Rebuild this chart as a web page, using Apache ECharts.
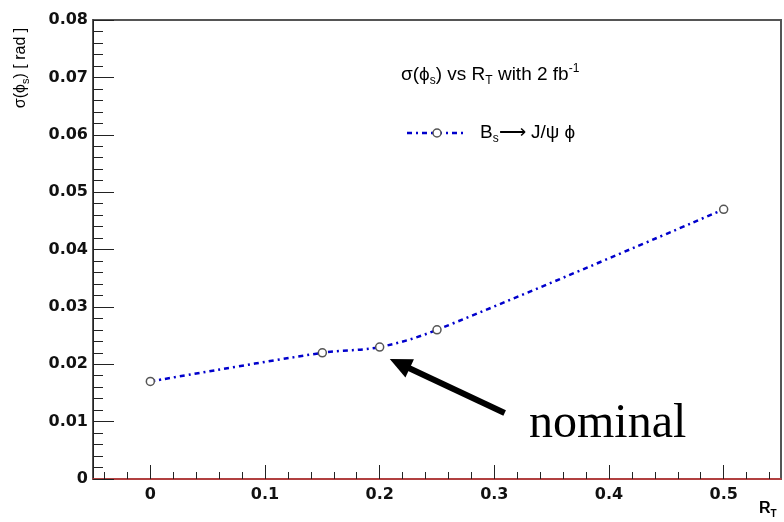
<!DOCTYPE html>
<html><head><meta charset="utf-8">
<script src="https://cdn.jsdelivr.net/npm/echarts@6/dist/echarts.min.js"></script>
<style>html,body{margin:0;padding:0;background:#fff}#c{width:784px;height:522px}</style>
</head><body><div id="c"></div>
<script>
// ---- data ----
const rT = [0, 0.15, 0.2, 0.25, 0.5];
const sigmaPhiS = [0.017, 0.022, 0.023, 0.026, 0.047];
const xTickValues = [0, 0.1, 0.2, 0.3, 0.4, 0.5];
const xTickLabels = ['0', '0.1', '0.2', '0.3', '0.4', '0.5'];
const yTickLabels = ['0', '0.01', '0.02', '0.03', '0.04', '0.05', '0.06', '0.07', '0.08'];
const arrowTail = [0.309, 0.0115];
const arrowHead = [0.2175, 0.0201];

const xMinor = [];
for (let i = -2; i <= 27; i++) { if (i % 5 !== 0) xMinor.push(+(i * 0.02).toFixed(2)); }

const chart = echarts.init(document.getElementById('c'), null, {renderer: 'canvas'});
const tickFont = {fontFamily: 'DejaVu Sans', fontWeight: 'bold', fontSize: 16, color: '#111'};
const rich = {
  n: {fontFamily: 'Liberation Sans', fontSize: 19, lineHeight: 24, color: '#111'},
  s: {fontFamily: 'Liberation Sans', fontSize: 12, lineHeight: 12, verticalAlign: 'bottom', color: '#111'},
  p: {fontFamily: 'Liberation Sans', fontSize: 12, lineHeight: 12, verticalAlign: 'top', color: '#111'}
};
const richY = {
  n: {fontFamily: 'Liberation Sans', fontSize: 16, lineHeight: 20, color: '#111'},
  s: {fontFamily: 'Liberation Sans', fontSize: 11, lineHeight: 11, verticalAlign: 'bottom', color: '#111'}
};
const X0 = -0.05, X1 = 0.55;
chart.setOption({
  animation: false,
  backgroundColor: '#fff',
  grid: {left: 93, right: 3, top: 20, bottom: 43, show: true, borderColor: '#555', borderWidth: 2, backgroundColor: 'transparent'},
  xAxis: [{
    type: 'value', min: X0, max: X1, position: 'bottom',
    axisLine: {show: true, onZero: false, lineStyle: {color: '#d03a3a', width: 1.5}},
    axisTick: {show: true, inside: true, length: 14, customValues: xTickValues, lineStyle: {color: '#222', width: 1}},
    axisLabel: Object.assign({show: true, margin: 8, customValues: xTickValues,
      formatter: v => xTickLabels[Math.round(v * 10)]}, tickFont),
    splitLine: {show: false}
  }, {
    type: 'value', min: X0, max: X1, position: 'bottom',
    axisLine: {show: false},
    axisTick: {show: true, inside: true, length: 7, customValues: xMinor, lineStyle: {color: '#222', width: 1}},
    axisLabel: {show: false},
    splitLine: {show: false}
  }],
  yAxis: {
    type: 'value', min: 0, max: 0.08, interval: 0.01,
    axisLine: {show: true, onZero: false, lineStyle: {color: '#222', width: 1}},
    axisTick: {show: true, inside: true, length: 21, lineStyle: {color: '#222', width: 1}},
    minorTick: {show: true, splitNumber: 5, length: 10, lineStyle: {color: '#222', width: 1}},
    axisLabel: Object.assign({margin: 5, formatter: v => yTickLabels[Math.round(v / 0.01)]}, tickFont),
    splitLine: {show: false}, minorSplitLine: {show: false}
  },
  series: [{
    type: 'line', xAxisIndex: 0,
    data: rT.map((x, i) => [x, sigmaPhiS[i]]),
    smooth: 0.35,
    symbol: 'circle', symbolSize: 8,
    itemStyle: {color: '#fff', borderColor: '#555', borderWidth: 1.5},
    lineStyle: {color: '#0000cc', width: 2.5, type: [5, 4, 2, 4]},
    z: 5,
    markLine: {
      silent: true, animation: false,
      symbol: ['none', 'triangle'], symbolSize: [20, 22],
      lineStyle: {color: '#000', width: 6, type: 'solid'},
      label: {show: false},
      data: [[{coord: arrowTail, symbol: 'none'}, {coord: arrowHead, symbol: 'triangle'}]]
    }
  }],
  graphic: [
    {type: 'text', x: 401, y: 75, style: {text: '{n|σ(ϕ}{s|s}{n|) vs R}{s|T}{n| with 2 fb}{p|-1}', rich: rich, verticalAlign: 'middle'}},
    {type: 'line', shape: {x1: 407, y1: 133, x2: 466, y2: 133}, style: {stroke: '#0000cc', lineWidth: 2.5, lineDash: [5, 4, 2, 4]}},
    {type: 'circle', shape: {cx: 437, cy: 133, r: 4}, style: {fill: '#fff', stroke: '#555', lineWidth: 1.5}},
    {type: 'text', x: 480, y: 133, style: {text: '{n|B}{s|s}{n|⟶ J/ψ ϕ}', rich: rich, verticalAlign: 'middle'}},
    {type: 'text', x: 21, y: 68, rotation: Math.PI / 2, style: {text: '{n|σ(ϕ}{s|s}{n|) [ rad ]}', rich: richY, align: 'center', verticalAlign: 'middle'}},
    {type: 'text', x: 759, y: 509, style: {text: '{b|R}{bs|T}', verticalAlign: 'middle', rich: {
      b: {fontFamily: 'Liberation Sans', fontWeight: 'bold', fontSize: 16, lineHeight: 20, color: '#111'},
      bs: {fontFamily: 'Liberation Sans', fontWeight: 'bold', fontSize: 10, lineHeight: 10, verticalAlign: 'bottom', color: '#111'}}}},
    {type: 'text', x: 529, y: 400, style: {text: 'nominal', fontFamily: 'Liberation Serif', fontSize: 48, fill: '#000', verticalAlign: 'top'}}
  ]
});
</script></body></html>
